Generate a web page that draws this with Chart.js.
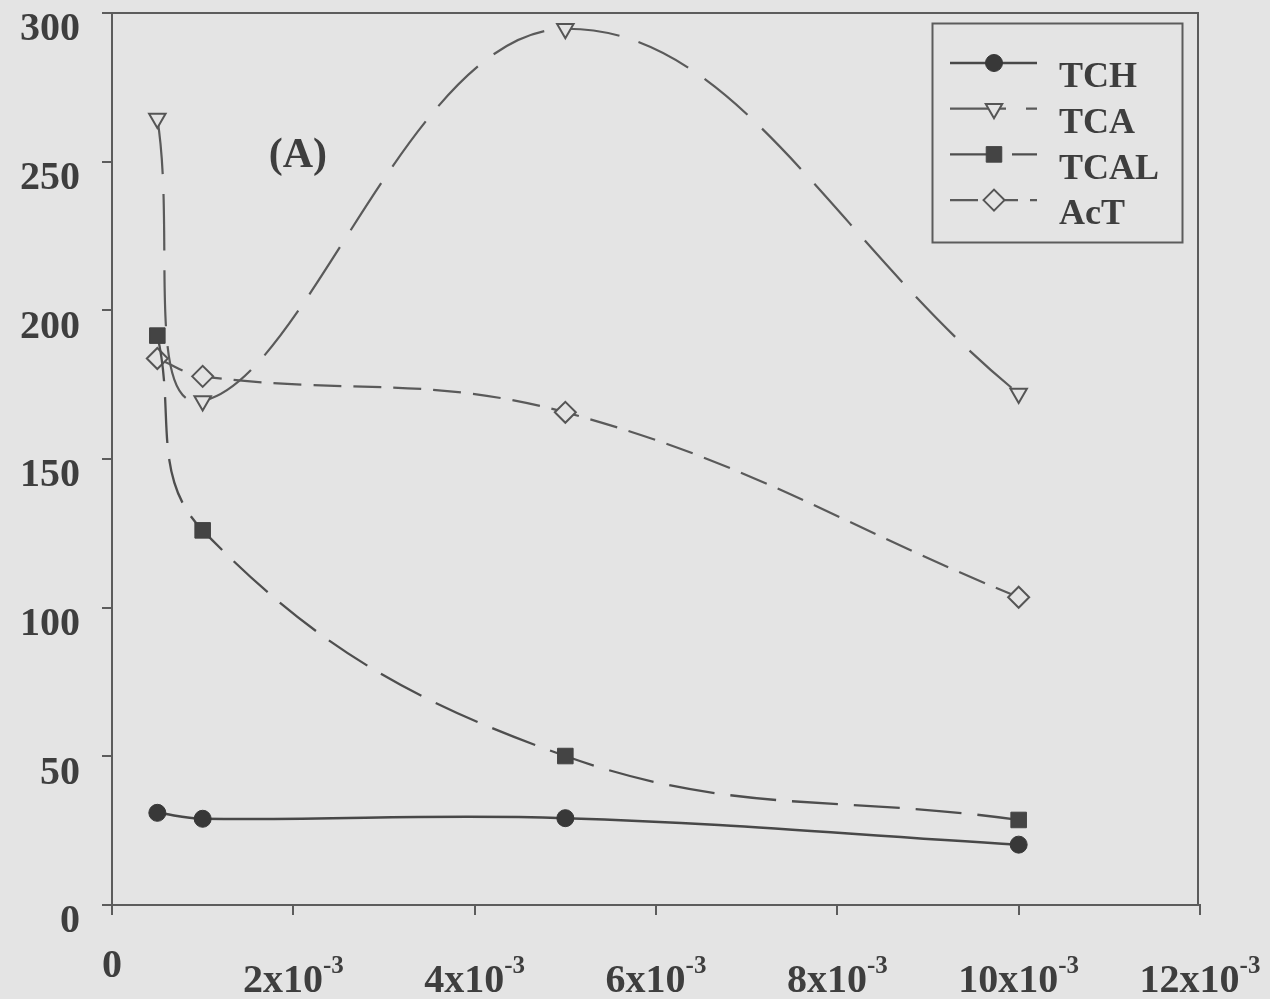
<!DOCTYPE html>
<html><head><meta charset="utf-8">
<style>html,body{margin:0;padding:0;background:#e4e4e4;overflow:hidden}</style>
<script src="https://cdn.jsdelivr.net/npm/chart.js@4.4.1/dist/chart.umd.min.js"></script>
</head><body>
<canvas id="c" width="1270" height="999" style="display:block;width:1270px;height:999px"></canvas>
<script>
// ---- data ----
const xValues = [0.0005, 0.001, 0.005, 0.010];
const tch  = [31.0, 29.0, 29.2, 20.3];
const tca  = [264.5, 169.5, 294.7, 172.0];
const tcal = [191.5, 126.0, 50.1, 28.6];
const act  = [183.8, 177.8, 165.7, 103.5];
const seriesNames = ['TCH', 'TCA', 'TCAL', 'AcT'];
const xTickValues = [0, 0.002, 0.004, 0.006, 0.008, 0.010, 0.012];
const xTickMain = ['0', '2x10', '4x10', '6x10', '8x10', '10x10', '12x10'];
const xTickSup  = ['', '-3', '-3', '-3', '-3', '-3', '-3'];
const yTickValues = [0, 50, 100, 150, 200, 250, 300];
const panelLabel = '(A)';

// ---- styles ----
const BG = '#e4e4e4';
const AXIS = '#5c5c5c';
const TXT = '#3e3e3e';
const SERIF = '"Liberation Serif", "Times New Roman", serif';

function pts(ys) { return xValues.map((x, i) => ({x: x, y: ys[i]})); }

const datasets = [
  {label: seriesNames[0], data: pts(tch), borderColor: '#484848', borderWidth: 2.5, borderDash: [],
   pointStyle: 'circle', pointRadius: 8.5, pointRotation: 0, pointBackgroundColor: '#383838', pointBorderColor: '#383838', pointBorderWidth: 1},
  {label: seriesNames[1], data: pts(tca), borderColor: '#5a5a5a', borderWidth: 2.2, borderDash: [56, 20],
   pointStyle: 'triangle', pointRadius: 9.5, pointRotation: 180, pointBackgroundColor: BG, pointBorderColor: '#555', pointBorderWidth: 2},
  {label: seriesNames[2], data: pts(tcal), borderColor: '#4e4e4e', borderWidth: 2.3, borderDash: [46, 16],
   pointStyle: 'rect', pointRadius: 11, pointRotation: 0, pointBackgroundColor: '#444', pointBorderColor: '#444', pointBorderWidth: 1},
  {label: seriesNames[3], data: pts(act), borderColor: '#5a5a5a', borderWidth: 2.2, borderDash: [28, 12],
   pointStyle: 'rectRot', pointRadius: 10.5, pointRotation: 0, pointBackgroundColor: BG, pointBorderColor: '#555', pointBorderWidth: 2}
];
datasets.forEach(d => { d.tension = 0.4; d.fill = false; d.pointHoverRadius = d.pointRadius; });

const bgPlugin = {
  id: 'bg',
  beforeDraw(chart) {
    const c = chart.ctx; c.save(); c.fillStyle = BG; c.fillRect(0, 0, chart.width, chart.height); c.restore();
  }
};

function drawMarker(ctx, ds, x, y) {
  ctx.save();
  ctx.fillStyle = ds.pointBackgroundColor;
  ctx.strokeStyle = ds.pointBorderColor;
  ctx.lineWidth = ds.pointBorderWidth;
  ctx.setLineDash([]);
  Chart.helpers.drawPoint(ctx, {pointStyle: ds.pointStyle, radius: ds.pointRadius, rotation: ds.pointRotation, borderWidth: ds.pointBorderWidth}, x, y);
  ctx.restore();
}

const decorPlugin = {
  id: 'decor',
  afterDraw(chart) {
    const ctx = chart.ctx, a = chart.chartArea;
    const xs = chart.scales.x, ys = chart.scales.y;
    ctx.save();
    // frame top/right
    ctx.strokeStyle = AXIS; ctx.lineWidth = 2; ctx.setLineDash([]);
    ctx.beginPath();
    ctx.moveTo(a.left, a.top); ctx.lineTo(a.right - 2, a.top); ctx.lineTo(a.right - 2, a.bottom);
    ctx.stroke();

    // x tick labels with superscript exponent
    ctx.fillStyle = TXT;
    ctx.textBaseline = 'alphabetic';
    xTickValues.forEach((v, i) => {
      const px = xs.getPixelForValue(v);
      const main = xTickMain[i], sup = xTickSup[i];
      ctx.font = 'bold 40px ' + SERIF;
      const wm = ctx.measureText(main).width;
      ctx.font = 'bold 25px ' + SERIF;
      const wsu = sup ? ctx.measureText(sup).width : 0;
      const total = wm + wsu;
      const x0 = px - total / 2;
      const base = sup ? a.bottom + 87 : a.bottom + 72;
      ctx.font = 'bold 40px ' + SERIF;
      ctx.textAlign = 'left';
      ctx.fillText(main, x0, base);
      if (sup) {
        ctx.font = 'bold 25px ' + SERIF;
        ctx.fillText(sup, x0 + wm, base - 19);
      }
    });

    // panel label
    ctx.font = 'bold 42px ' + SERIF;
    ctx.textAlign = 'center'; ctx.textBaseline = 'middle';
    ctx.fillText(panelLabel, xs.getPixelForValue(0.00205), ys.getPixelForValue(252));

    // legend
    const bx = 932, by = 23, bw = 250, bh = 219;
    ctx.strokeStyle = AXIS; ctx.lineWidth = 2;
    ctx.strokeRect(bx + 0.5, by + 0.5, bw, bh);
    chart.data.datasets.forEach((ds, i) => {
      const y = by + 40 + i * 45.7;
      ctx.save();
      ctx.strokeStyle = ds.borderColor; ctx.lineWidth = ds.borderWidth;
      ctx.setLineDash(ds.borderDash);
      ctx.beginPath(); ctx.moveTo(950, y); ctx.lineTo(1037, y); ctx.stroke();
      ctx.restore();
      drawMarker(ctx, ds, 994, y);
      ctx.fillStyle = TXT;
      ctx.font = 'bold 36px ' + SERIF;
      ctx.textAlign = 'left'; ctx.textBaseline = 'middle';
      ctx.fillText(ds.label, 1059, y + 15);
    });
    ctx.restore();
  }
};

new Chart(document.getElementById('c'), {
  type: 'line',
  data: {datasets: datasets},
  options: {
    responsive: false, animation: false, devicePixelRatio: 1,
    layout: {padding: {top: 13, right: 70, left: 0, bottom: 0}},
    plugins: {legend: {display: false}, tooltip: {enabled: false}},
    scales: {
      x: {
        type: 'linear', min: 0, max: 0.012,
        afterBuildTicks: s => { s.ticks = xTickValues.map(v => ({value: v})); },
        ticks: {display: false},
        grid: {display: true, drawOnChartArea: false, drawTicks: true, tickLength: 10, color: AXIS, lineWidth: 2},
        border: {display: true, color: AXIS, width: 2},
        afterFit: s => { s.height = 94; s.paddingLeft = 0; s.paddingRight = 0; }
      },
      y: {
        type: 'linear', min: 0, max: 300,
        afterBuildTicks: s => { s.ticks = yTickValues.map(v => ({value: v})); },
        ticks: {font: {family: SERIF, size: 40, weight: 'bold'}, color: TXT, padding: 22, labelOffset: 17},
        grid: {display: true, drawOnChartArea: false, drawTicks: true, tickLength: 10, color: AXIS, lineWidth: 2},
        border: {display: true, color: AXIS, width: 2},
        afterFit: s => { s.width = 112; s.paddingTop = 0; s.paddingBottom = 0; }
      }
    }
  },
  plugins: [bgPlugin, decorPlugin]
});
</script>
</body></html>
